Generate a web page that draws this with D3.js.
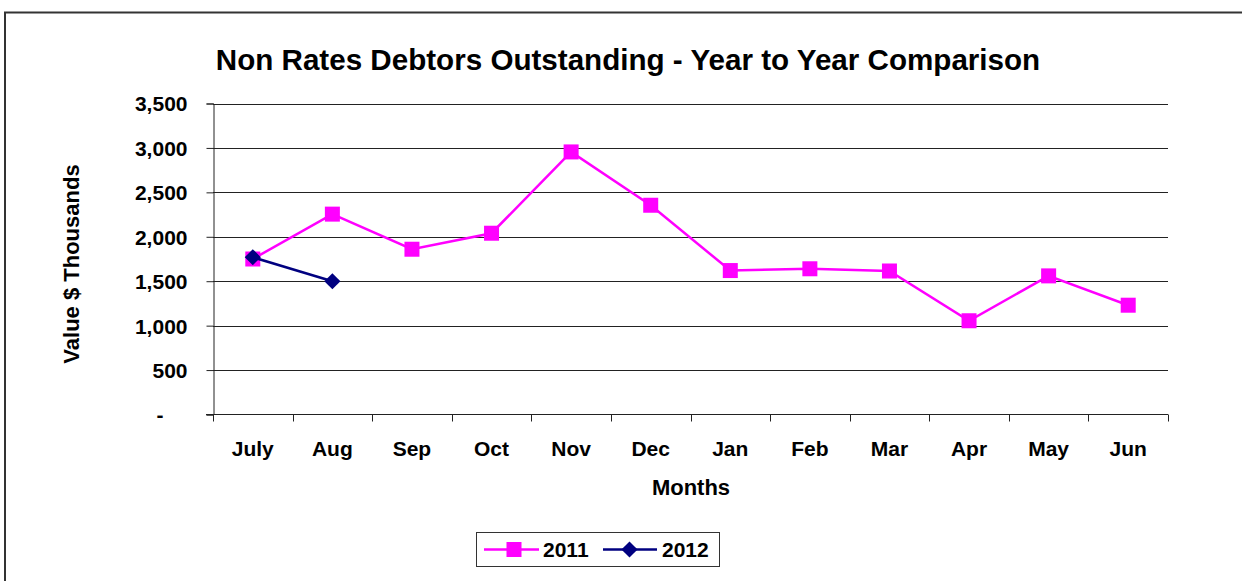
<!DOCTYPE html>
<html>
<head>
<meta charset="utf-8">
<script src="https://cdn.jsdelivr.net/npm/d3@7"></script>
<style>
  body { margin: 0; background: #fff; }
  text { font-family: "Liberation Sans", Arial, sans-serif; font-weight: bold; fill: #000; }
</style>
</head>
<body>
<div id="chart"></div>
<script>
var months = ['July', 'Aug', 'Sep', 'Oct', 'Nov', 'Dec', 'Jan', 'Feb', 'Mar', 'Apr', 'May', 'Jun'];
var values2011 = [1750, 2255, 1860, 2040, 2955, 2355, 1620, 1640, 1615, 1055, 1560, 1230];
var values2012 = [1770, 1500];
var yTicks = [0, 500, 1000, 1500, 2000, 2500, 3000, 3500];

var W = 1242, H = 581;
var svg = d3.select('#chart').append('svg')
    .attr('width', W)
    .attr('height', H);

// outer frame (left and top edges visible)
svg.append('path')
    .attr('d', 'M5,581 V12.5 H1242')
    .style('fill', 'none')
    .style('stroke', '#333')
    .style('stroke-width', 2);

var x = d3.scaleBand().domain(months).range([213, 1168]);
var y = d3.scaleLinear().domain([0, 3500]).range([414.5, 103.5]);

// gridlines
svg.append('g').selectAll('line')
    .data(yTicks.filter(function(d) { return d > 0; }))
  .enter().append('line')
    .attr('x1', 213).attr('x2', 1168)
    .attr('y1', function(d) { return Math.round(y(d)) + 0.5; })
    .attr('y2', function(d) { return Math.round(y(d)) + 0.5; })
    .style('stroke', '#222')
    .style('stroke-width', 1);

// y axis
var fmt = d3.format(',');
var yAxis = svg.append('g')
    .attr('transform', 'translate(213.5,0)')
    .call(d3.axisLeft(y).tickValues(yTicks).tickSize(7).tickPadding(19)
        .tickFormat(function(d) { return d === 0 ? '-' : fmt(d); }));
yAxis.select('.domain').style('stroke', '#222');
yAxis.selectAll('.tick line').style('stroke', '#222');
yAxis.selectAll('.tick text')
    .style('font-size', '21px')
    .attr('dy', '0.35em')
    .attr('dx', function(d) { return d === 0 ? -24 : 0; });

// x axis with ticks at category boundaries
var xAxis = svg.append('g')
    .attr('transform', 'translate(0,414.5)');
xAxis.append('line')
    .attr('x1', 206).attr('x2', 1168)
    .style('stroke', '#222');
xAxis.selectAll('.xt')
    .data(months.concat(['end']))
  .enter().append('line')
    .attr('class', 'xt')
    .attr('x1', function(d, i) { return Math.round(213 + i * x.step()) + 0.5; })
    .attr('x2', function(d, i) { return Math.round(213 + i * x.step()) + 0.5; })
    .attr('y1', 0).attr('y2', 7)
    .style('stroke', '#222');
xAxis.selectAll('.xl')
    .data(months)
  .enter().append('text')
    .attr('class', 'xl')
    .attr('x', function(d) { return x(d) + x.bandwidth() / 2; })
    .attr('y', 41)
    .attr('text-anchor', 'middle')
    .style('font-size', '21px')
    .text(function(d) { return d; });

// titles
svg.append('text')
    .attr('x', 628).attr('y', 70)
    .attr('text-anchor', 'middle')
    .style('font-size', '29.6px')
    .text('Non Rates Debtors Outstanding - Year to Year Comparison');

svg.append('text')
    .attr('x', 691).attr('y', 495)
    .attr('text-anchor', 'middle')
    .style('font-size', '22px')
    .text('Months');

svg.append('text')
    .attr('transform', 'translate(79,264) rotate(-90)')
    .attr('text-anchor', 'middle')
    .style('font-size', '22px')
    .text('Value $ Thousands');

// series
var cx = function(d, i) { return x(months[i]) + x.bandwidth() / 2; };
var line = d3.line()
    .x(cx)
    .y(function(d) { return y(d); });

svg.append('path')
    .datum(values2011)
    .attr('d', line)
    .style('fill', 'none')
    .style('stroke', '#ff00ff')
    .style('stroke-width', 2.5);

svg.append('g').selectAll('rect')
    .data(values2011)
  .enter().append('rect')
    .attr('x', function(d, i) { return cx(d, i) - 7.5; })
    .attr('y', function(d) { return y(d) - 7.5; })
    .attr('width', 15).attr('height', 15)
    .style('fill', '#ff00ff');

svg.append('path')
    .datum(values2012)
    .attr('d', line)
    .style('fill', 'none')
    .style('stroke', '#000080')
    .style('stroke-width', 2.5);

var diamond = d3.symbol().type(d3.symbolSquare).size(130);
svg.append('g').selectAll('path')
    .data(values2012)
  .enter().append('path')
    .attr('transform', function(d, i) { return 'translate(' + cx(d, i) + ',' + y(d) + ') rotate(45)'; })
    .attr('d', diamond)
    .style('fill', '#000080');

// legend
var legend = svg.append('g');
legend.append('rect')
    .attr('x', 476.5).attr('y', 532.5)
    .attr('width', 243).attr('height', 34)
    .style('fill', '#fff')
    .style('stroke', '#333')
    .style('stroke-width', 1);

legend.append('line')
    .attr('x1', 484).attr('x2', 539).attr('y1', 549.5).attr('y2', 549.5)
    .style('stroke', '#ff00ff').style('stroke-width', 2.5);
legend.append('rect')
    .attr('x', 506.5).attr('y', 542).attr('width', 15).attr('height', 15)
    .style('fill', '#ff00ff');
legend.append('text')
    .attr('x', 543).attr('y', 557)
    .style('font-size', '21px')
    .text('2011');

legend.append('line')
    .attr('x1', 603).attr('x2', 657).attr('y1', 549.5).attr('y2', 549.5)
    .style('stroke', '#000080').style('stroke-width', 2.5);
legend.append('path')
    .attr('transform', 'translate(629.5,549.5) rotate(45)')
    .attr('d', diamond)
    .style('fill', '#000080');
legend.append('text')
    .attr('x', 662).attr('y', 557)
    .style('font-size', '21px')
    .text('2012');
</script>
</body>
</html>
